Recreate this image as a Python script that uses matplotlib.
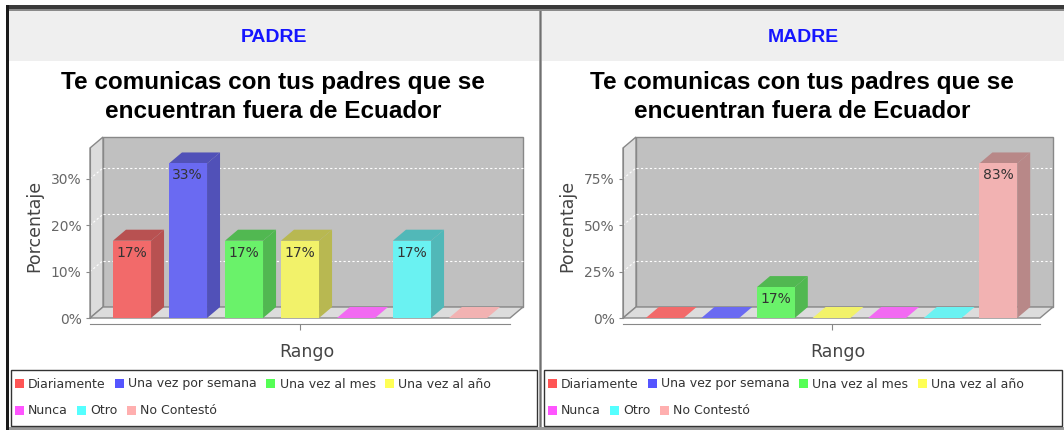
import matplotlib
matplotlib.use('Agg')
import matplotlib.pyplot as plt
from matplotlib.patches import Rectangle, Polygon, Patch
import numpy as np

# ---------------- data ----------------
categories = ["Diariamente", "Una vez por semana", "Una vez al mes", "Una vez al año",
              "Nunca", "Otro", "No Contestó"]
padre_values = [16.67, 33.33, 16.67, 16.67, 0.0, 16.67, 0.0]
madre_values = [0.0, 0.0, 16.67, 0.0, 0.0, 0.0, 83.33]
panel_titles = ["PADRE", "MADRE"]
chart_title = "Te comunicas con tus padres que se\nencuentran fuera de Ecuador"
x_label = "Rango"
y_label = "Porcentaje"
tick_steps = [10, 25]
base_colors = ["#FF5555", "#5555FF", "#55FF55", "#FFFF55", "#FF55FF", "#55FFFF", "#FFAFAF"]

# ---------------- layout ----------------
W, H = 1064, 430
fig = plt.figure(figsize=(W / 100, H / 100), dpi=100)
fig.patch.set_facecolor('white')


def fx(x):
    return x / W


def fy(y):
    return 1 - y / H


def rect_px(x0, y0, x1, y1, **kw):
    fig.patches.append(Rectangle((fx(x0), fy(y1)), (x1 - x0) / W, (y1 - y0) / H,
                                 transform=fig.transFigure, **kw))


def front_color(c):
    rgb = np.array(matplotlib.colors.to_rgb(c))
    return tuple(0.8 * rgb + 0.2 * np.array([192, 192, 192]) / 255)


def dark_color(c):
    return tuple(np.array(front_color(c)) * 0.76)


# window frame pieces
rect_px(6, 5, W, 11, facecolor='#3a3a3a', edgecolor='none')
rect_px(6, 9, W, 11, facecolor='#8a8a8a', edgecolor='none')
rect_px(6, 5, 9, H, facecolor='#1a1a1a', edgecolor='none')
rect_px(9, 11, 539, 61, facecolor='#efefef', edgecolor='none')
rect_px(542, 11, W, 61, facecolor='#efefef', edgecolor='none')
rect_px(539, 11, 542, H, facecolor='#a0a0a0', edgecolor='none')
rect_px(540, 11, 541, H, facecolor='#707070', edgecolor='none')
rect_px(9, 427, W, H, facecolor='#9a9a9a', edgecolor='none')

panels = [
    dict(values=padre_values, step=tick_steps[0], title=panel_titles[0],
         left=9, right=539, ax0=90, ax1=510, lb0=11, lb1=537),
    dict(values=madre_values, step=tick_steps[1], title=panel_titles[1],
         left=542, right=W, ax0=623, ax1=1040, lb0=544, lb1=1062),
]

DEPTH_X, DEPTH_Y = 13, 11  # 3D depth in pixels
AX_TOP, AX_BOT = 148, 318
BAR_W = 0.68

for p in panels:
    vals = p['values']
    cx = (p['left'] + p['right']) / 2
    fig.text(fx(cx), fy(37), p['title'], ha='center', va='center', color='#1515ff',
             fontsize=14, fontweight='bold', family='Liberation Sans')
    fig.text(fx(cx - 1), fy(97), chart_title, ha='center', va='center', color='black',
             fontsize=17.5, fontweight='bold', family='Liberation Sans', linespacing=1.32)

    ax = fig.add_axes([fx(p['ax0']), fy(AX_BOT), (p['ax1'] - p['ax0']) / W,
                       (AX_BOT - AX_TOP) / H])
    ax.patch.set_visible(False)
    n = len(vals)
    x0, x1 = -0.75, n - 0.25
    ymax = max(vals) * 1.1
    ax.set_xlim(x0, x1)
    ax.set_ylim(0, ymax)
    dx = DEPTH_X / (p['ax1'] - p['ax0']) * (x1 - x0)
    dy = DEPTH_Y / (AX_BOT - AX_TOP) * ymax

    # walls
    ax.add_patch(Rectangle((x0 + dx, dy), x1 - x0, ymax, facecolor='#c0c0c0',
                           edgecolor='#888888', lw=1, clip_on=False, zorder=0.5))
    ax.add_patch(Polygon([(x0, 0), (x0, ymax), (x0 + dx, ymax + dy), (x0 + dx, dy)],
                         closed=True, facecolor='#dcdcdc', edgecolor='#888888', lw=1,
                         clip_on=False, zorder=0.6))
    ax.add_patch(Polygon([(x0, 0), (x1, 0), (x1 + dx, dy), (x0 + dx, dy)],
                         closed=True, facecolor='#dcdcdc', edgecolor='#888888', lw=1,
                         clip_on=False, zorder=0.6))
    ticks = np.arange(0, ymax, p['step'])
    for t in ticks[1:]:
        ax.plot([x0 + dx, x1 + dx], [t + dy, t + dy], color='white', lw=0.8,
                ls=(0, (2, 2)), clip_on=False, zorder=0.7)
        ax.plot([x0, x0 + dx], [t, t + dy], color='white', lw=0.8,
                ls=(0, (2, 2)), clip_on=False, zorder=0.7)

    # bars
    for i, (v, c) in enumerate(zip(vals, base_colors)):
        l, r = i - BAR_W / 2, i + BAR_W / 2
        fc, dc = front_color(c), dark_color(c)
        ax.add_patch(Polygon([(l, v), (r, v), (r + dx, v + dy), (l + dx, v + dy)],
                             closed=True, facecolor=dc if v > 0 else fc,
                             edgecolor='none', clip_on=False, zorder=3))
        if v > 0:
            ax.add_patch(Polygon([(r, 0), (r, v), (r + dx, v + dy), (r + dx, dy)],
                                 closed=True, facecolor=dc, edgecolor='none',
                                 clip_on=False, zorder=3))
            ax.bar(i, v, width=BAR_W, color=fc, zorder=3.5, clip_on=False)
            ax.annotate(f"{v:.0f}%", xy=(l, v), xytext=(2.5, -3.5),
                        textcoords='offset points', ha='left', va='top',
                        fontsize=10, color='#333333', zorder=5)

    # axes styling
    for s in ['top', 'right']:
        ax.spines[s].set_visible(False)
    ax.spines['left'].set_color('#888888')
    ax.spines['bottom'].set_color('#888888')
    ax.spines['bottom'].set_position(('outward', 4))
    ax.set_yticks(ticks)
    ax.set_yticklabels([f"{t:.0f}%" for t in ticks])
    ax.tick_params(axis='y', colors='#888888', labelcolor='#666666', labelsize=10,
                   length=3, pad=3)
    ax.set_xticks([(x0 + x1) / 2])
    ax.set_xticklabels([''])
    ax.tick_params(axis='x', colors='#888888', length=4)

    fig.text(fx(p['ax0'] - 56), fy(226), y_label, rotation=90, ha='center', va='center',
             fontsize=12.5, color='#444444')
    fig.text(fx((p['ax0'] + p['ax1'] + DEPTH_X) / 2), fy(352), x_label, ha='center',
             va='center', fontsize=12.5, color='#444444')

    # legend
    rect_px(p['lb0'], 370, p['lb1'], 426, facecolor='white', edgecolor='#333333', lw=1)
    handles = [Patch(facecolor=c, edgecolor='none', label=lab)
               for c, lab in zip(base_colors, categories)]
    for rows, ypix in [(handles[:4], 384), (handles[4:], 411)]:
        fig.legend(handles=rows, loc='center left',
                   bbox_to_anchor=(fx(p['lb0'] + 4), fy(ypix)),
                   ncol=len(rows), frameon=False, fontsize=9, handlelength=0.7,
                   handleheight=0.7, handletextpad=0.35, columnspacing=0.75,
                   borderpad=0, borderaxespad=0, labelcolor='#333333')

fig.savefig('out.png', dpi=100, facecolor='white')
